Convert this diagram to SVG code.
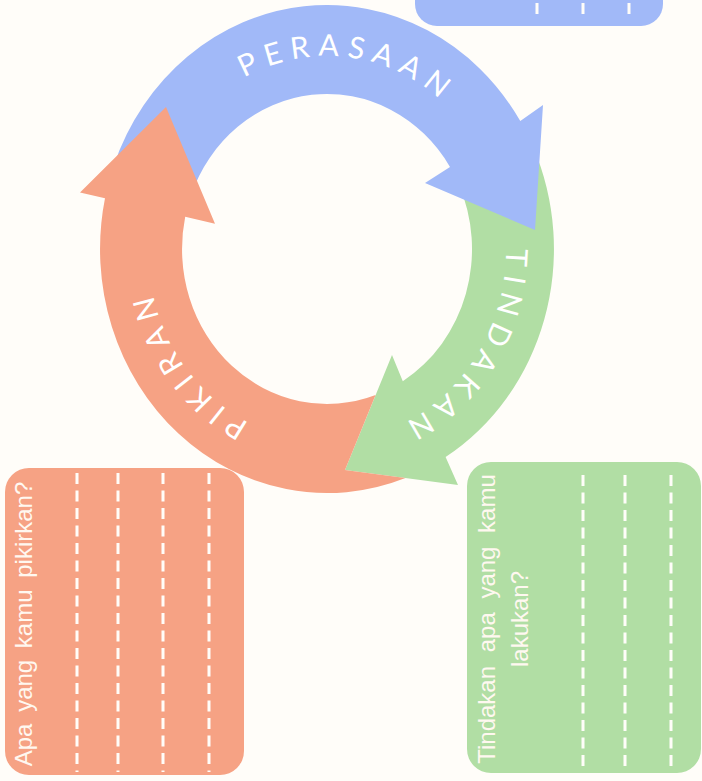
<svg xmlns="http://www.w3.org/2000/svg" width="702" height="781" viewBox="0 0 702 781">
<defs>
<style>
.bg{fill:#fffdf9}
.blue{fill:#a1b9f8}
.green{fill:#b1dea4}
.pink{fill:#f6a284}
.arc-label{font-family:Lato,"Open Sans",sans-serif;font-weight:400;font-size:30px;fill:#ffffff;letter-spacing:8px}
.q{font-family:"Liberation Sans",Arial,sans-serif;font-size:24px;fill:#fff8f0}
.dash{stroke:#fffdf9;stroke-width:3;stroke-dasharray:11 6.5;fill:none}
</style>
<path id="ring" d="M 148,249 A 179 193 0 1 1 506,249 A 179 193 0 1 1 148,249"/>
</defs>
<rect class="bg" width="702" height="781"/>

<g id="box-perasaan">
<rect class="blue" x="415" y="-60" width="248" height="86" rx="22"/>
<line class="dash" x1="537" y1="3" x2="537" y2="14"/>
<line class="dash" x1="583" y1="3" x2="583" y2="14"/>
<line class="dash" x1="629" y1="3" x2="629" y2="14"/>
</g>

<g id="box-pikiran">
<rect class="pink" x="5" y="468" width="239" height="307" rx="24"/>
<line class="dash" x1="77" y1="473" x2="77" y2="772"/>
<line class="dash" x1="118" y1="473" x2="118" y2="772"/>
<line class="dash" x1="163" y1="473" x2="163" y2="772"/>
<line class="dash" x1="209" y1="473" x2="209" y2="772"/>
<text class="q" transform="translate(32,624) rotate(-90)" text-anchor="middle" word-spacing="5">Apa yang kamu pikirkan?</text>
</g>

<g id="box-tindakan">
<rect class="green" x="467" y="462" width="234" height="311" rx="24"/>
<line class="dash" x1="583" y1="475" x2="583" y2="770"/>
<line class="dash" x1="625" y1="475" x2="625" y2="770"/>
<line class="dash" x1="671" y1="475" x2="671" y2="770"/>
<text class="q" transform="translate(495,619) rotate(-90)" text-anchor="middle" word-spacing="7">Tindakan apa yang kamu</text>
<text class="q" transform="translate(528,619) rotate(-90)" text-anchor="middle">lakukan?</text>
</g>

<g id="connectors">
<g id="arrow-tindakan">
<path class="green" d="M 532.7,145.9 A 227 244 0 0 1 445.6,457 L 458,485 L 345,470 L 392,355 L 402.8,381.2 A 145 155 0 0 0 458.4,183.5 Z"/>
<text class="arc-label" text-anchor="middle"><textPath href="#ring" startOffset="59.3%">TINDAKAN</textPath></text>
</g>
<g id="arrow-perasaan">
<path class="blue" d="M 113.7,165.6 A 227 244 0 0 1 520.3,121.1 L 543,105 L 535,230 L 425,183 L 450,166.9 A 145 155 0 0 0 190.7,196 Z"/>
<text class="arc-label" text-anchor="middle"><textPath href="#ring" startOffset="26.9%">PERASAAN</textPath></text>
</g>
<g id="arrow-pikiran">
<path class="pink" d="M 405.5,478 A 227 244 0 0 1 105,198.3 L 80,192.5 L 166,107 L 215,223.7 L 185.2,216.8 A 145 155 0 0 0 375.6,395 L 345,470 Z"/>
<text class="arc-label" text-anchor="middle"><textPath href="#ring" startOffset="89.3%">PIKIRAN</textPath></text>
</g>
</g>
</svg>
